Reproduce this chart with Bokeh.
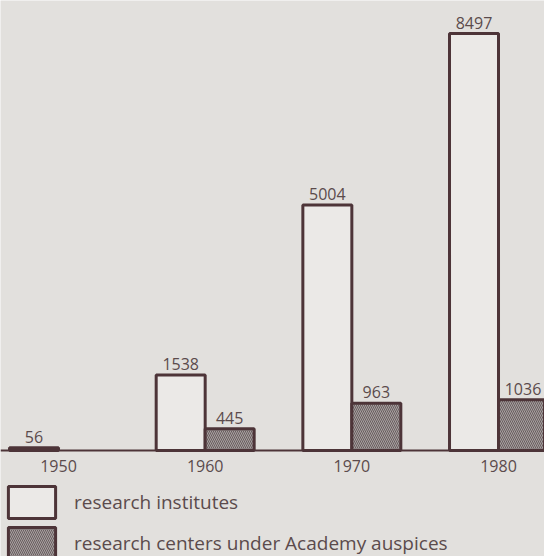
from bokeh.plotting import figure
from bokeh.models import ColumnDataSource, Range1d, Span, Legend, LegendItem
from bokeh.transform import dodge
from bokeh.core.properties import value
from bokeh.embed import file_html
from bokeh.resources import INLINE

# ---- data ----
years = [1950, 1960, 1970, 1980]
year_labels = ["1950", "1960", "1970", "1980"]
institutes = [56, 1538, 5004, 8497]
center_years = [1960, 1970, 1980]
centers = [445, 963, 1036]
series_names = ["research institutes", "research centers under Academy auspices"]

# ---- style ----
BG = "#e2e0dd"
INK = "#4d3438"
TXT = "#5b4b4c"
FONT = "Open Sans"
BAR_W = 3.34

src_i = ColumnDataSource(dict(x=years, v=institutes, lab=[str(v) for v in institutes]))
src_c = ColumnDataSource(dict(x=center_years, v=centers, lab=[str(v) for v in centers]))
src_y = ColumnDataSource(dict(x=years, y=[0] * len(years), lab=year_labels))

p = figure(width=544, height=556, output_backend="svg", toolbar_location=None,
           x_range=Range1d(1946.045, 1983.136), y_range=Range1d(-2160, 9169.5),
           min_border=0, background_fill_color=BG, border_fill_color=BG,
           outline_line_color=None)
p.axis.visible = False
p.grid.visible = False

r_i = p.vbar(x=dodge("x", -BAR_W / 2, range=p.x_range), top="v", bottom=0, width=BAR_W,
             source=src_i, fill_color="#ebe9e7", line_color=INK, line_width=3)
r_c = p.vbar(x=dodge("x", BAR_W / 2, range=p.x_range), top="v", bottom=0, width=BAR_W,
             source=src_c, fill_color="#a6a2a1", line_color=INK, line_width=3,
             hatch_pattern="left_diagonal_line", hatch_color="#6a5c5e",
             hatch_scale=4, hatch_weight=1)

p.add_layout(Span(location=0, dimension="width", line_color=INK, line_width=2))

p.text(x=dodge("x", -BAR_W / 2, range=p.x_range), y="v", text="lab", source=src_i,
       text_align="center", text_baseline="bottom", y_offset=-5,
       text_font=value(FONT), text_font_size="16px", text_color=TXT)
p.text(x=dodge("x", BAR_W / 2, range=p.x_range), y="v", text="lab", source=src_c,
       text_align="center", text_baseline="bottom", y_offset=-5,
       text_font=value(FONT), text_font_size="16px", text_color=TXT)
p.text(x="x", y="y", text="lab", source=src_y,
       text_align="center", text_baseline="middle", y_offset=16,
       text_font=value(FONT), text_font_size="16px", text_color=TXT)

legend = Legend(items=[LegendItem(label=series_names[0], renderers=[r_i]),
                       LegendItem(label=series_names[1], renderers=[r_c])],
                location=(2, -7), orientation="vertical",
                glyph_width=59, glyph_height=40, label_standoff=13, spacing=1,
                padding=0, margin=0, border_line_alpha=0, background_fill_alpha=0,
                label_text_font=FONT, label_text_font_size="19px", label_text_color=TXT,
                label_height=40)
p.add_layout(legend)

open("out.html", "w").write(file_html(p, INLINE))
